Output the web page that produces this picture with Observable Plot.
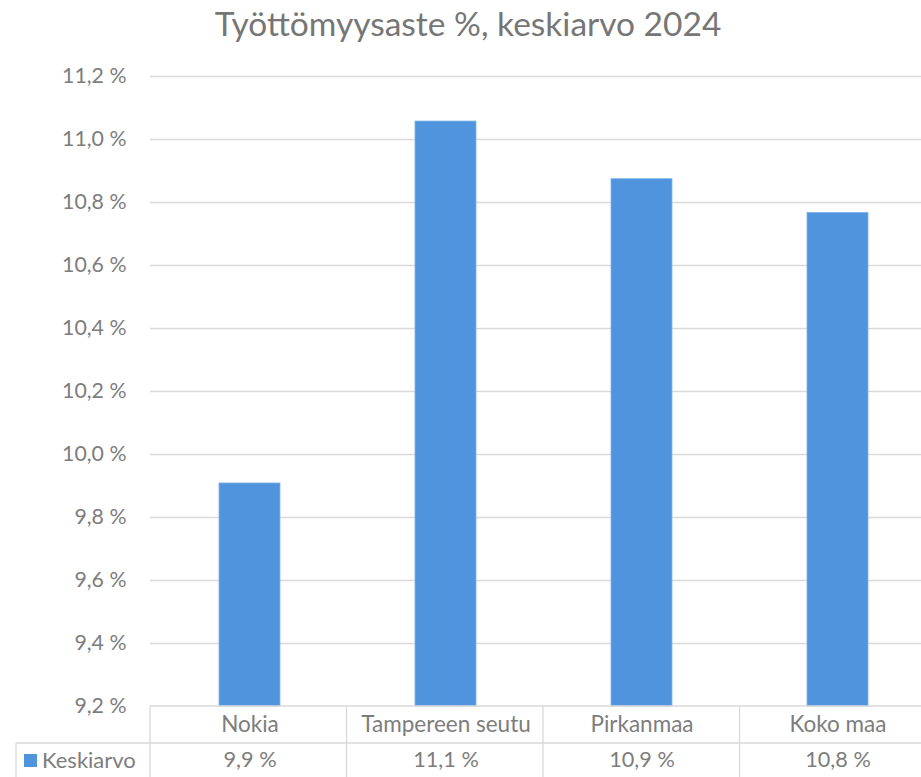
<!DOCTYPE html>
<html><head><meta charset="utf-8">
<script src="https://cdn.jsdelivr.net/npm/d3@7"></script>
<script src="https://cdn.jsdelivr.net/npm/@observablehq/plot@0.6"></script>
<style>
html,body{margin:0;padding:0;background:#fff;overflow:hidden;width:921px;height:777px}
#title{position:absolute;left:0;top:0;width:936px;height:50px;line-height:46px;text-align:center;font-family:Lato,sans-serif;font-size:33.5px;color:#767676;white-space:nowrap}
#chart{position:absolute;left:0;top:50px}
</style></head><body>
<div id="title">Työttömyysaste %, keskiarvo 2024</div>
<div id="chart"></div>
<script>
const categories = ["Nokia", "Tampereen seutu", "Pirkanmaa", "Koko maa"];
const values = [9.908, 11.057, 10.874, 10.767];
const valueLabels = ["9,9 %", "11,1 %", "10,9 %", "10,8 %"];
const yTicks = [9.2, 9.4, 9.6, 9.8, 10.0, 10.2, 10.4, 10.6, 10.8, 11.0, 11.2];
const seriesName = "Keskiarvo";

const data = categories.map((c, i) => ({category: c, value: values[i], label: valueLabels[i]}));
const xRange = [150, 936];
const step = (xRange[1] - xRange[0]) / categories.length;
const W = 921, H = 727;
const gridColor = "#D9D9D9";
const textColor = "#7d7d7d";
const barColor = "#4F94DC";

function tableMark(index, scales, values, dims) {
  const g = d3.create("svg:g");
  const top = dims.height - dims.marginBottom; // axis line
  const rowSep = top + 37;
  const bottom = dims.height + 5;
  const line = (x1, y1, x2, y2) => g.append("line")
    .attr("x1", x1).attr("y1", y1).attr("x2", x2).attr("y2", y2)
    .attr("stroke", gridColor).attr("stroke-width", 1.3);
  line(xRange[0], top, W, top);
  line(16, rowSep, W, rowSep);
  line(16, rowSep, 16, bottom);
  for (let i = 0; i < categories.length; i++) {
    const x = xRange[0] + i * step;
    line(x, top, x, bottom);
  }
  // legend key
  g.append("rect").attr("x", 24).attr("y", rowSep + 11).attr("width", 13).attr("height", 13).attr("fill", barColor);
  g.append("text").attr("x", 42).attr("y", rowSep + 17.5).attr("dy", "0.35em")
    .attr("text-anchor", "start")
    .attr("fill", textColor).attr("font-size", 22).attr("font-family", "Lato, sans-serif").text(seriesName);
  return g.node();
}

const chart = Plot.plot({
  width: W,
  height: H,
  marginTop: 26,
  marginBottom: 71,
  marginLeft: 150,
  marginRight: 0,
  style: {fontFamily: "Lato, sans-serif", fontSize: "21.3px", color: textColor, background: "#fff"},
  x: {type: "band", domain: categories, range: xRange, paddingInner: 0.69, paddingOuter: 0.345, align: 0.5, axis: null},
  y: {domain: [yTicks[0], yTicks[yTicks.length - 1]], ticks: yTicks, tickSize: 0, tickPadding: 24,
      tickFormat: d => d.toFixed(1).replace(".", ",") + " %", label: null},
  marks: [
    Plot.ruleY(yTicks.slice(1), {stroke: gridColor, strokeWidth: 1.3}),
    Plot.barY(data, {x: "category", y1: yTicks[0], y2: "value", fill: barColor, stroke: "#7FB2E8", strokeWidth: 0.8}),
    tableMark,
    Plot.text(data, {x: "category", text: "category", frameAnchor: "bottom", lineAnchor: "middle", dy: 18, fill: textColor, fontSize: 22.5}),
    Plot.text(data, {x: "category", text: "label", frameAnchor: "bottom", lineAnchor: "middle", dy: 54, fill: textColor, fontSize: 21.7})
  ]
});
document.getElementById("chart").appendChild(chart);
</script>
</body></html>
